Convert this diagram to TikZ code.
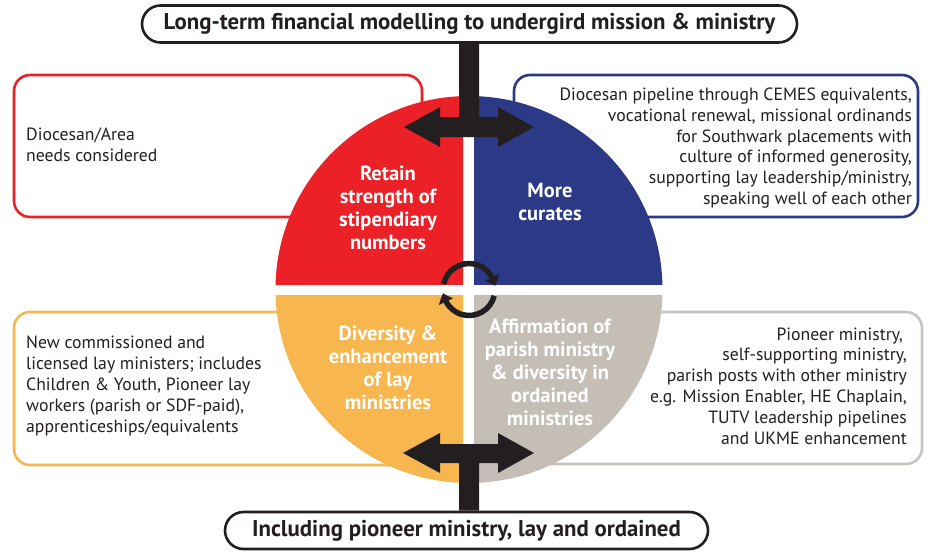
\documentclass[tikz,border=0pt]{standalone}
\usepackage{fontspec}
\setmainfont{PT Sans}
\usetikzlibrary{arrows.meta,bending,calc}
\definecolor{qred}{RGB}{236,32,39}
\definecolor{qblue}{RGB}{43,57,135}
\definecolor{qorange}{RGB}{247,182,78}
\definecolor{qgray}{RGB}{196,190,182}
\definecolor{qgrayline}{RGB}{200,196,190}
\definecolor{ink}{RGB}{35,31,32}
\begin{document}
\begin{tikzpicture}[x=1pt,y=-1pt,
  infobox/.style={draw, rounded corners=16pt, line width=2.6pt, fill=white, inner sep=0pt},
  pill/.style={draw=ink, line width=2.6pt, fill=white, rounded corners=18.5pt, inner sep=0pt,
    font=\fontsize{22.8}{26}\selectfont\bfseries, text=ink},
  bodytext/.style={inner sep=0pt, text=ink, font=\fontsize{17.7}{20.8}\selectfont},
  quadtext/.style={inner sep=0pt, text=white, align=center, font=\fontsize{20.5}{23}\selectfont\bfseries},
  cyc/.style={draw=ink, line width=5.5pt, -{Triangle[width=15pt,length=9pt,bend]}}
]
\useasboundingbox (0,0) rectangle (928,551);
% boxes
\node[infobox, draw=qred, minimum width=408pt, minimum height=142pt] (boxR) at (218,146) {};
\node[infobox, draw=qblue, minimum width=404pt, minimum height=142pt] (boxB) at (716,146) {};
\node[infobox, draw=qorange, minimum width=408pt, minimum height=153pt] (boxO) at (218,388.5) {};
\node[infobox, draw=qgrayline, minimum width=408pt, minimum height=152pt] (boxG) at (718,388) {};
% quadrants
\coordinate (c) at (469,289.5);
\begin{scope}\clip (260,80) rectangle (463,284);\fill[qred] (c) circle (193.5);\end{scope}
\begin{scope}\clip (474,80) rectangle (680,284);\fill[qblue] (c) circle (193.5);\end{scope}
\begin{scope}\clip (260,295) rectangle (463,500);\fill[qorange] (c) circle (193.5);\end{scope}
\begin{scope}\clip (474,295) rectangle (680,500);\fill[qgray] (c) circle (193.5);\end{scope}
% titles
\node[pill, minimum width=655pt, minimum height=37pt] (title) at (469.5,24) {Long-term financial modelling to undergird mission \& ministry};
\node[pill, minimum width=483pt, minimum height=37pt] (bottom) at (466.5,530.5) {Including pioneer ministry, lay and ordained};
% T arrows
\fill[ink] ($(title.south)+(-10.5,0)$) -- (459,117) -- (440,117) -- (440,107) -- (404,127) -- (440,147) -- (440,137)
  -- (498,137) -- (498,147) -- (534,127) -- (498,107) -- (498,117) -- (479,117) -- ($(title.south)+(9.5,0)$) -- cycle;
\fill[ink] ($(bottom.north)+(-7.5,0)$) -- (459,463) -- (440,463) -- (440,473) -- (403,453) -- (440,433) -- (440,444)
  -- (498,444) -- (498,433) -- (534,453) -- (498,473) -- (498,463) -- (479,463) -- ($(bottom.north)+(12.5,0)$) -- cycle;
% cycle arrows
\draw[cyc] ($(c)+(-168:26)$) arc[start angle=-168, end angle=-8, radius=26];
\draw[cyc] ($(c)+(14:26)$) arc[start angle=14, end angle=172, radius=26];
% quadrant labels
\node[quadtext] (lR) at (388,208) {Retain\\strength of\\stipendiary\\numbers};
\node[quadtext] (lB) at (550,201.5) {More\\curates};
\node[quadtext] (lO) at (388,367.5) {Diversity \&\\enhancement\\of lay\\ministries};
\node[quadtext] (lG) at (550,372) {Affirmation of\\parish ministry\\\& diversity in\\ordained\\ministries};
% box texts
\node[bodytext, anchor=west, align=left] (tR) at (26,145) {Diocesan/Area\\needs considered};
\node[bodytext, anchor=east, align=right] (tB) at (912,148) {Diocesan pipeline through CEMES equivalents,\\vocational renewal, missional ordinands\\for Southwark placements with\\culture of informed generosity,\\supporting lay leadership/ministry,\\speaking well of each other};
\node[bodytext, anchor=west, align=left] (tO) at (26,386) {New commissioned and\\licensed lay ministers; includes\\Children \& Youth, Pioneer lay\\workers (parish or SDF-paid),\\apprenticeships/equivalents};
\node[bodytext, anchor=east, align=right] (tG) at (907,386) {Pioneer ministry,\hspace*{4pt}\\self-supporting ministry,\\parish posts with other ministry\hspace*{4pt}\\e.g. Mission Enabler, HE Chaplain,\\TUTV leadership pipelines\\and UKME enhancement};
\end{tikzpicture}
\end{document}
